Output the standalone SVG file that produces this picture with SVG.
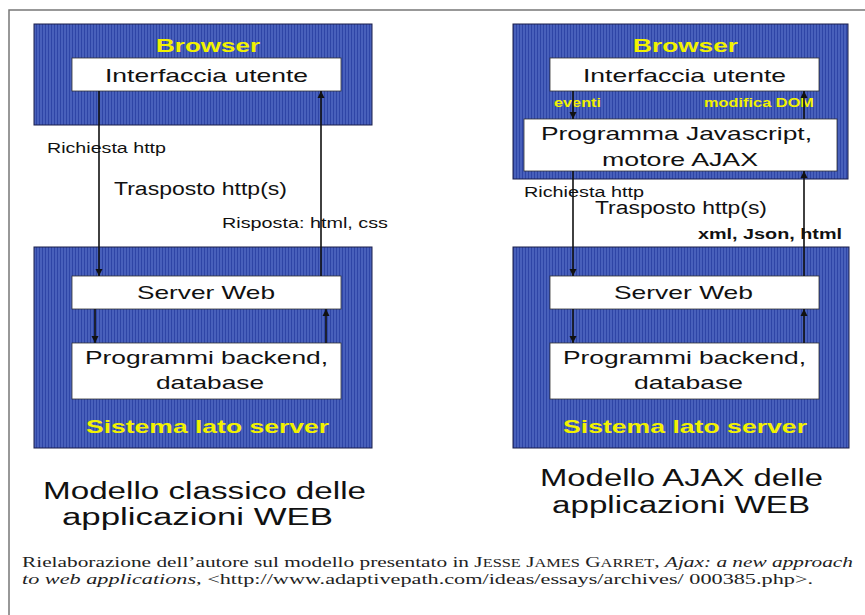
<svg xmlns="http://www.w3.org/2000/svg" width="865" height="615" viewBox="0 0 865 615">
  <style>
    .panel { fill: url(#stripes); stroke: #1a1f4a; stroke-width: 1; }
    .box { fill: #ffffff; stroke: #333333; stroke-width: 0.8; }
    .t { font-family: "Liberation Sans", Arial, sans-serif; fill: #111111; }
    .y { font-family: "Liberation Sans", Arial, sans-serif; font-weight: bold; fill: #f2f200; }
    .b { font-family: "Liberation Sans", Arial, sans-serif; font-weight: bold; fill: #111111; }
    .cap { font-family: "Liberation Serif", "Times New Roman", serif; fill: #222222; font-size: 15px; }
    .conn { stroke: #111111; stroke-width: 1.6; fill: none; marker-end: url(#head); }
  </style>
  <defs>
    <pattern id="stripes" width="3" height="4" patternUnits="userSpaceOnUse">
      <rect width="3" height="4" fill="#4860bb"/>
      <rect width="1" height="4" fill="#2e45a6"/>
    </pattern>
    <marker id="head" viewBox="0 0 10 10" refX="10" refY="5" markerWidth="4.5" markerHeight="4.5" orient="auto" markerUnits="strokeWidth">
      <path d="M0,0 L10,5 L0,10 z" fill="#111111"/>
    </marker>
  </defs>

  <rect width="865" height="615" fill="#ffffff"/>
  <!-- outer frame -->
  <path d="M9,615 L9,10 L865,10" fill="none" stroke="#777777" stroke-width="1.5"/>

  <!-- classic model -->
  <g id="classic-browser">
    <rect class="panel" x="34" y="24" width="338" height="101"/>
    <text class="y" x="156" y="52" font-size="19" textLength="104" lengthAdjust="spacingAndGlyphs">Browser</text>
  </g>
  <g id="classic-ui">
    <rect class="box" x="72" y="58" width="269" height="33"/>
    <text class="t" x="105" y="82" font-size="18.5" textLength="203" lengthAdjust="spacingAndGlyphs">Interfaccia utente</text>
  </g>
  <g id="classic-server">
    <rect class="panel" x="34" y="247" width="338" height="201"/>
    <text class="y" x="86" y="433" font-size="19" textLength="243" lengthAdjust="spacingAndGlyphs">Sistema lato server</text>
  </g>
  <g id="classic-webserver">
    <rect class="box" x="72" y="276" width="269" height="33"/>
    <text class="t" x="137" y="299" font-size="18.5" textLength="138" lengthAdjust="spacingAndGlyphs">Server Web</text>
  </g>
  <g id="classic-backend">
    <rect class="box" x="72" y="343" width="269" height="56"/>
    <text class="t" x="85" y="364" font-size="18.5" textLength="243" lengthAdjust="spacingAndGlyphs">Programmi backend,</text>
    <text class="t" x="156" y="389" font-size="18.5" textLength="108" lengthAdjust="spacingAndGlyphs">database</text>
  </g>

  <!-- AJAX model -->
  <g id="ajax-browser">
    <rect class="panel" x="513" y="24" width="335" height="155"/>
    <text class="y" x="633" y="52" font-size="19" textLength="105" lengthAdjust="spacingAndGlyphs">Browser</text>
    <text class="y" x="554" y="107" font-size="12" textLength="47" lengthAdjust="spacingAndGlyphs">eventi</text>
    <text class="y" x="704" y="107" font-size="12" textLength="110" lengthAdjust="spacingAndGlyphs">modifica DOM</text>
  </g>
  <g id="ajax-ui">
    <rect class="box" x="550" y="58" width="269" height="33"/>
    <text class="t" x="583" y="82" font-size="18.5" textLength="203" lengthAdjust="spacingAndGlyphs">Interfaccia utente</text>
  </g>
  <g id="ajax-engine">
    <rect class="box" x="524" y="119" width="313" height="52"/>
    <text class="t" x="541" y="140" font-size="18.5" textLength="271" lengthAdjust="spacingAndGlyphs">Programma Javascript,</text>
    <text class="t" x="602" y="166" font-size="18.5" textLength="156" lengthAdjust="spacingAndGlyphs">motore AJAX</text>
  </g>
  <g id="ajax-server">
    <rect class="panel" x="513" y="247" width="336" height="201"/>
    <text class="y" x="563" y="433" font-size="19" textLength="244" lengthAdjust="spacingAndGlyphs">Sistema lato server</text>
  </g>
  <g id="ajax-webserver">
    <rect class="box" x="550" y="276" width="269" height="33"/>
    <text class="t" x="614" y="299" font-size="18.5" textLength="139" lengthAdjust="spacingAndGlyphs">Server Web</text>
  </g>
  <g id="ajax-backend">
    <rect class="box" x="550" y="343" width="269" height="56"/>
    <text class="t" x="563" y="364" font-size="18.5" textLength="243" lengthAdjust="spacingAndGlyphs">Programmi backend,</text>
    <text class="t" x="634" y="389" font-size="18.5" textLength="109" lengthAdjust="spacingAndGlyphs">database</text>
  </g>

  <!-- connectors -->
  <g id="connectors">
    <line class="conn" x1="99" y1="91" x2="99" y2="276"/>
    <line class="conn" x1="321" y1="276" x2="321" y2="91"/>
    <line class="conn" x1="95" y1="309" x2="95" y2="343"/>
    <line class="conn" x1="326" y1="343" x2="326" y2="309"/>

    <line class="conn" x1="573" y1="91" x2="573" y2="119"/>
    <line class="conn" x1="804" y1="119" x2="804" y2="91"/>
    <line class="conn" x1="573" y1="171" x2="573" y2="276"/>
    <line class="conn" x1="804" y1="276" x2="804" y2="171"/>
    <line class="conn" x1="573" y1="309" x2="573" y2="343"/>
    <line class="conn" x1="804" y1="343" x2="804" y2="309"/>
  </g>

  <!-- connector labels -->
  <g id="labels">
    <text class="t" x="47" y="153" font-size="14" textLength="119" lengthAdjust="spacingAndGlyphs">Richiesta http</text>
    <text class="t" x="114" y="195" font-size="18" textLength="173" lengthAdjust="spacingAndGlyphs">Trasposto http(s)</text>
    <text class="t" x="222" y="228" font-size="15" textLength="166" lengthAdjust="spacingAndGlyphs">Risposta: html, css</text>

    <text class="t" x="524" y="197" font-size="14" textLength="120" lengthAdjust="spacingAndGlyphs">Richiesta http</text>
    <text class="t" x="595" y="214" font-size="18" textLength="172" lengthAdjust="spacingAndGlyphs">Trasposto http(s)</text>
    <text class="b" x="698" y="239" font-size="14" textLength="144" lengthAdjust="spacingAndGlyphs">xml, Json, html</text>
  </g>

  <!-- titles -->
  <g id="titles">
    <text class="t" x="43" y="499" font-size="23" textLength="323" lengthAdjust="spacingAndGlyphs">Modello classico delle</text>
    <text class="t" x="62" y="525" font-size="23" textLength="271" lengthAdjust="spacingAndGlyphs">applicazioni WEB</text>
    <text class="t" x="540" y="486" font-size="23" textLength="283" lengthAdjust="spacingAndGlyphs">Modello AJAX delle</text>
    <text class="t" x="552" y="513" font-size="23" textLength="258" lengthAdjust="spacingAndGlyphs">applicazioni WEB</text>
  </g>

  <!-- source note -->
  <g id="caption">
    <text class="cap" x="22" y="567" textLength="831" lengthAdjust="spacingAndGlyphs">Rielaborazione dell’autore sul modello presentato in J<tspan font-size="11.5">ESSE</tspan> J<tspan font-size="11.5">AMES</tspan> G<tspan font-size="11.5">ARRET</tspan>, <tspan font-style="italic">Ajax: a new approach</tspan></text>
    <text class="cap" x="22" y="584" textLength="791" lengthAdjust="spacingAndGlyphs"><tspan font-style="italic">to web applications</tspan>, &lt;http://www.adaptivepath.com/ideas/essays/archives/ 000385.php&gt;.</text>
  </g>
</svg>
